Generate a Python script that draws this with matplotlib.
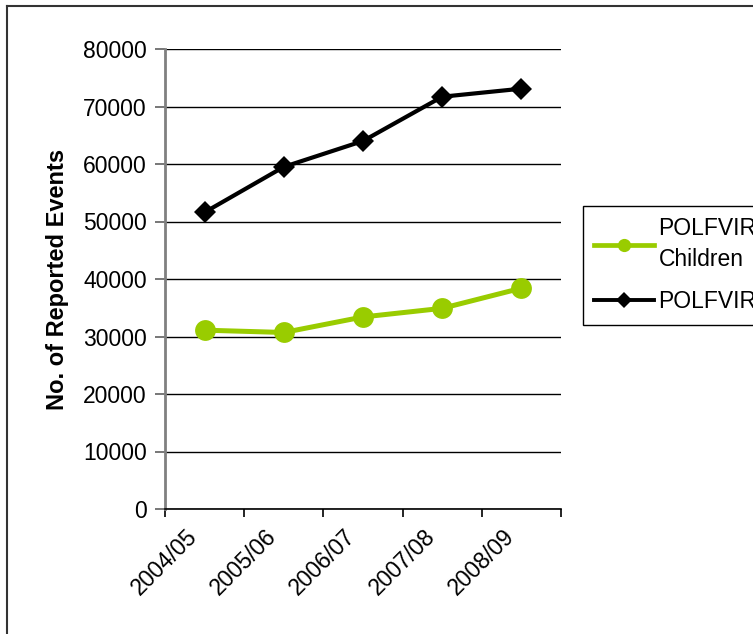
import matplotlib
matplotlib.use('Agg')
import matplotlib.pyplot as plt
from matplotlib.lines import Line2D
from matplotlib.transforms import ScaledTranslation

plt.rcParams['font.family'] = ['Liberation Sans', 'DejaVu Sans']

# data
years = ['2004/05', '2005/06', '2006/07', '2007/08', '2008/09']
children = [31100, 30700, 33400, 34900, 38400]
total = [51600, 59500, 64000, 71700, 73100]
labels = ['POLFVIR\nChildren', 'POLFVIR']

GREEN = '#99cc00'

W, H = 753, 634
fig = plt.figure(figsize=(W / 100, H / 100), dpi=100)
ax = fig.add_axes([165 / W, 1 - 509 / H, (561 - 165) / W, (509 - 49) / H])

x = list(range(len(years)))
ax.plot(x, children, color=GREEN, lw=3.6, marker='o', ms=15,
        markeredgewidth=0)
ax.plot(x, total, color='black', lw=3, marker='D', ms=11.5,
        markeredgewidth=0)

ax.set_ylim(0, 80000)
ax.set_yticks(range(0, 80001, 10000))
ax.set_xlim(-0.5, len(years) - 0.5)
ax.set_xticks(x)
ax.set_xticklabels([])
# category labels, set a bit left of the category centre like the original
shift = ScaledTranslation(-19 / 100, -16 / 100, fig.dpi_scale_trans)
for i, lab in zip(x, years):
    ax.text(i, 0, lab, transform=ax.get_xaxis_transform() + shift,
            rotation=45, ha='right', va='top', rotation_mode='anchor',
            fontsize=16.5)
ax.set_xticks([i - 0.5 for i in range(len(years) + 1)], minor=True)
ax.tick_params(axis='x', which='major', length=0)
ax.tick_params(axis='x', which='minor', length=6, width=1.2, color='black')
ax.tick_params(axis='y', length=7, width=1.2, color='#606060',
               labelsize=16.5, pad=6)

ax.grid(axis='y', color='black', lw=1)
ax.set_axisbelow(True)
for s in ['top', 'right']:
    ax.spines[s].set_visible(False)
ax.spines['left'].set_color('#808080')
ax.spines['left'].set_linewidth(2)
ax.spines['bottom'].set_color('black')
ax.spines['bottom'].set_linewidth(1.2)

ax.set_ylabel('No. of Reported Events', fontsize=17, fontweight='bold',
              labelpad=10)

# legend keys use smaller markers than the plot
h1 = Line2D([], [], color=GREEN, lw=3.4, marker='o', ms=9.5, markeredgewidth=0)
h2 = Line2D([], [], color='black', lw=2.8, marker='D', ms=8.5, markeredgewidth=0)
leg = fig.legend(handles=[h1, h2], labels=labels, loc='upper left',
                 bbox_to_anchor=(583 / W, 1 - 206 / H, 0.3, 0),
                 mode='expand', borderaxespad=0, fontsize=16.5,
                 handlelength=2.6, handletextpad=0.2, borderpad=0.5,
                 labelspacing=0.85, fancybox=False, framealpha=1)
leg.get_frame().set_edgecolor('black')
leg.get_frame().set_linewidth(1)
for t in leg.get_texts():
    t.set_linespacing(1.4)

# chart area border (only left and top visible in the crop)
fig.add_artist(Line2D([7 / W, 7 / W], [0, 1 - 6 / H], color='#333333', lw=1.5))
fig.add_artist(Line2D([7 / W, 1], [1 - 6 / H, 1 - 6 / H], color='#333333', lw=1.5))

fig.savefig('out.png', dpi=100)
